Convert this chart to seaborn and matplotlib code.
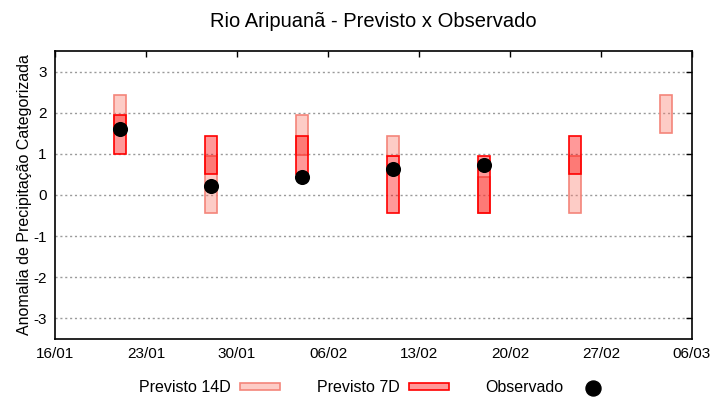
import matplotlib
matplotlib.use("Agg")
import matplotlib.pyplot as plt
import matplotlib.dates as mdates
from matplotlib.patches import Patch
from matplotlib.lines import Line2D
import pandas as pd
import seaborn as sns

title = "Rio Aripuanã - Previsto x Observado"
ylabel = "Anomalia de Precipitação Categorizada"

dates_14d = ["2023-01-21", "2023-01-28", "2023-02-04", "2023-02-11",
             "2023-02-18", "2023-02-25", "2023-03-04"]
low_14d = [1.51, -0.44, 0.97, 0.95, -0.44, -0.44, 1.51]
high_14d = [2.44, 0.95, 1.95, 1.44, 0.44, 0.95, 2.44]

dates_7d = ["2023-01-21", "2023-01-28", "2023-02-04", "2023-02-11",
            "2023-02-18", "2023-02-25"]
low_7d = [1.00, 0.51, 0.51, -0.44, -0.44, 0.51]
high_7d = [1.95, 1.44, 1.44, 0.95, 0.95, 1.44]

dates_obs = ["2023-01-21", "2023-01-28", "2023-02-04", "2023-02-11", "2023-02-18"]
obs = [1.61, 0.22, 0.44, 0.62, 0.73]

x_start, x_end = "2023-01-16", "2023-03-06"
y_ticks = [-3, -2, -1, 0, 1, 2, 3]
legend_labels = ["Previsto 14D", "Previsto 7D", "Observado"]

sns.set_theme(style="white")
plt.rcParams['font.family'] = ['Liberation Sans', 'DejaVu Sans']
plt.rcParams['axes.unicode_minus'] = False
plt.rcParams['text.color'] = 'black'
plt.rcParams['axes.labelcolor'] = 'black'
plt.rcParams['xtick.color'] = 'black'
plt.rcParams['ytick.color'] = 'black'

fig = plt.figure(figsize=(7.2, 4.0), dpi=100)
ax = fig.add_axes([0.0764, 0.1525, 0.8847, 0.72])

c14_face = (250/255, 128/255, 114/255, 0.4)
c14_edge = "#f4857a"
c7_face = (1.0, 0.0, 0.0, 0.4)
c7_edge = "#ff0000"

d14 = pd.to_datetime(dates_14d)
d7 = pd.to_datetime(dates_7d)
ax.bar(d14, [h - l for h, l in zip(high_14d, low_14d)], bottom=low_14d,
       width=0.9, facecolor=c14_face, edgecolor=c14_edge, linewidth=1.2, zorder=3)
ax.bar(d7, [h - l for h, l in zip(high_7d, low_7d)], bottom=low_7d,
       width=0.9, facecolor=c7_face, edgecolor=c7_edge, linewidth=1.2, zorder=4)

df_obs = pd.DataFrame({"data": pd.to_datetime(dates_obs), "obs": obs})
sns.scatterplot(data=df_obs, x="data", y="obs", color="black", s=118,
                linewidth=0, zorder=6, ax=ax, legend=False)

ax.set_xlim(pd.Timestamp(x_start), pd.Timestamp(x_end))
ax.set_ylim(-3.5, 3.5)
ax.set_xticks(pd.date_range(x_start, x_end, freq="7D"))
ax.xaxis.set_major_formatter(mdates.DateFormatter("%d/%m"))
ax.set_yticks(y_ticks)
ax.set_xlabel("")
ax.set_ylabel(ylabel, fontsize=11.5, labelpad=1, color="black")

ax.yaxis.grid(True, linestyle=(0, (1.5, 2.0)), color="#9a9a9a", linewidth=1.0, zorder=1)
ax.xaxis.grid(False)
ax.set_axisbelow(True)

ax.tick_params(direction="in", top=True, right=True, length=4, width=1.0,
               colors="black", pad=6)
for lab in ax.get_xticklabels():
    lab.set_family(['Liberation Sans Narrow', 'Liberation Sans', 'DejaVu Sans'])
    lab.set_fontsize(11)
for lab in ax.get_yticklabels():
    lab.set_fontsize(11)
for sp in ax.spines.values():
    sp.set_color("black")
    sp.set_linewidth(1.2)

ax.set_title(title, fontsize=14.5, pad=17, color="black")

handles = [
    Patch(facecolor=c14_face, edgecolor=c14_edge, linewidth=1.2),
    Patch(facecolor=c7_face, edgecolor=c7_edge, linewidth=1.2),
    Line2D([], [], marker="o", linestyle="none", color="black", markersize=10.8),
]
leg = fig.legend(handles, legend_labels, loc="center", bbox_to_anchor=(0.522, 0.03),
                 ncol=3, frameon=False, markerfirst=False, fontsize=11.5,
                 handlelength=2.5, handleheight=0.3, handletextpad=0.6,
                 columnspacing=2.3)
for t in leg.get_texts():
    t.set_color("black")

fig.savefig("out.png", dpi=100)
